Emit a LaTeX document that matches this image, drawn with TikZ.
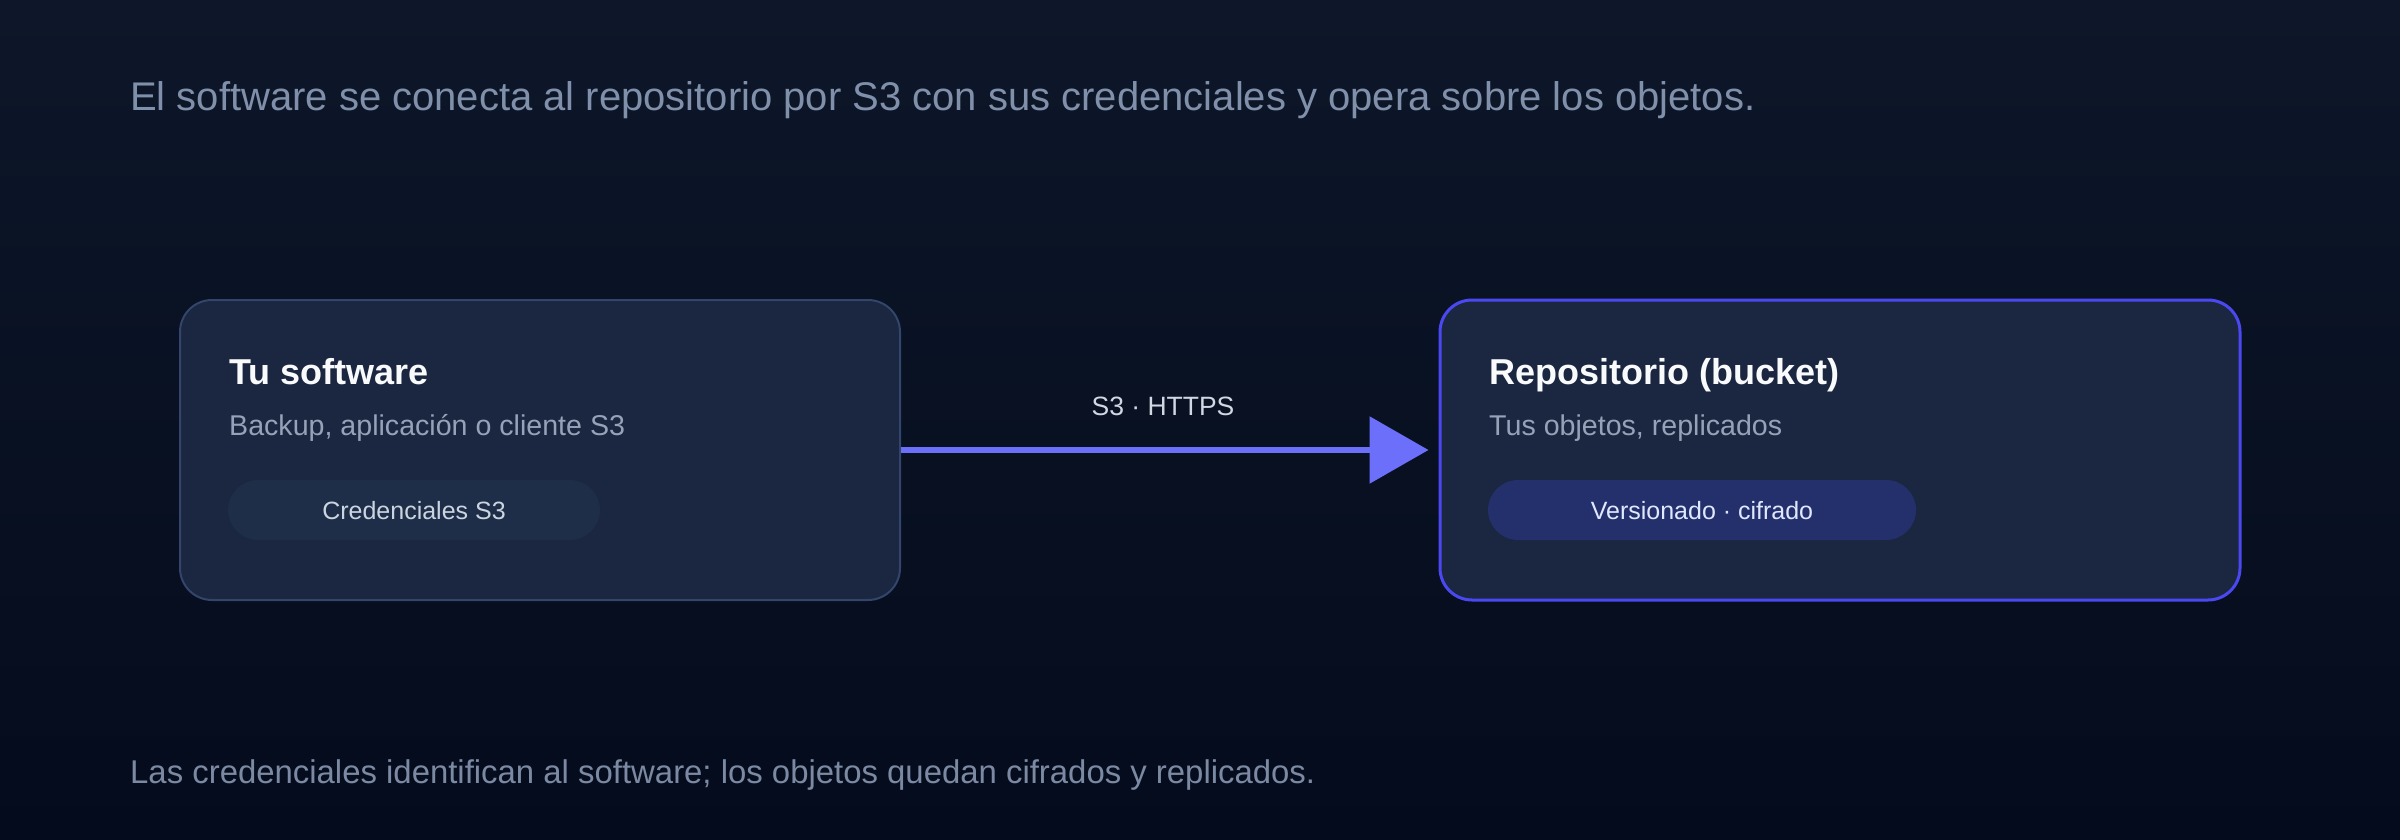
\documentclass[tikz,border=0pt]{standalone}
\usepackage{fontspec}
\setmainfont{Liberation Sans}
\usetikzlibrary{arrows.meta}
\definecolor{bgA}{HTML}{0D1729}
\definecolor{bgB}{HTML}{040B1C}
\definecolor{boxfill}{HTML}{1B2640}
\definecolor{lborder}{HTML}{33456A}
\definecolor{rborder}{HTML}{4A48F0}
\definecolor{arr}{HTML}{6C6FFA}
\definecolor{lpillfill}{HTML}{1F2E48}
\definecolor{rpillfill}{HTML}{23306C}
\definecolor{titlec}{HTML}{F8FAFC}
\definecolor{subc}{HTML}{94A3B8}
\definecolor{lpilltext}{HTML}{CBD5E1}
\definecolor{rpilltext}{HTML}{E0E7FF}
\definecolor{hdr}{HTML}{8190AA}
\definecolor{ftr}{HTML}{7B89A3}
\definecolor{lblc}{HTML}{D0D8E4}
\begin{document}
\begin{tikzpicture}[x=1pt,y=-1pt,
  cardbox/.style={rectangle, rounded corners=32pt, fill=boxfill, inner sep=0pt},
  pillbox/.style={rectangle, rounded corners=30pt, inner sep=0pt, minimum height=60pt,
    text height=18pt, text depth=0pt, font=\fontsize{25}{30}\selectfont},
  titletext/.style={anchor=base west, inner sep=0pt, text=titlec, font=\bfseries\fontsize{36}{43}\selectfont},
  subtext/.style={anchor=base west, inner sep=0pt, text=subc, font=\fontsize{28.6}{34}\selectfont},
  notetext/.style={anchor=base west, inner sep=0pt}
]
\useasboundingbox (0,0) rectangle (2400,840);
\shade[top color=bgA, bottom color=bgB] (0,0) rectangle (2400,840);

\node[notetext, text=hdr, font=\fontsize{40}{48}\selectfont] (head) at (130,111)
  {El software se conecta al repositorio por S3 con sus credenciales y opera sobre los objetos.};

\node[cardbox, draw=lborder, line width=2pt, minimum width=720pt, minimum height=300pt] (lbox) at (540,450) {};
\node[cardbox, draw=rborder, line width=3pt, minimum width=800pt, minimum height=300pt] (rbox) at (1840,450) {};

\node[titletext] (ltitle) at (229,384) {Tu software};
\node[subtext] (lsub) at (229,435) {Backup, aplicación o cliente S3};
\node[pillbox, fill=lpillfill, text=lpilltext, minimum width=372pt] (lpill) at (414,510) {Credenciales S3};

\node[titletext] (rtitle) at (1489,384) {Repositorio (bucket)};
\node[subtext] (rsub) at (1489,435) {Tus objetos, replicados};
\node[pillbox, fill=rpillfill, text=rpilltext, minimum width=428pt] (rpill) at (1702,510) {Versionado · cifrado};

\draw[line width=6pt, color=arr, shorten >=10pt, -{Triangle[length=59pt,width=66pt]}] (lbox.east) -- (rbox.west);
\node[anchor=base, inner sep=0pt, text=lblc, font=\fontsize{26.5}{31}\selectfont] (lbl) at (1163,415) {S3 · HTTPS};

\node[notetext, text=ftr, font=\fontsize{32.9}{39}\selectfont] (foot) at (130,783)
  {Las credenciales identifican al software; los objetos quedan cifrados y replicados.};
\end{tikzpicture}
\end{document}
